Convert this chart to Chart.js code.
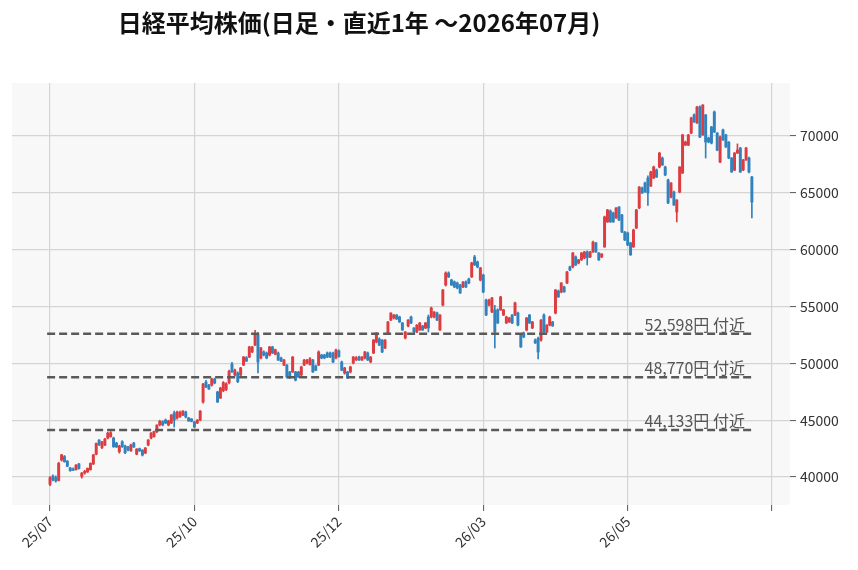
<!DOCTYPE html>
<html><head><meta charset="utf-8">
<script src="https://cdn.jsdelivr.net/npm/chart.js@4.4.1/dist/chart.umd.min.js"></script>
<style>
html,body{margin:0;padding:0;background:#fff;}
#wrap{position:relative;width:858px;height:570px;overflow:hidden;}
canvas{position:absolute;left:0;top:0;}
#title{position:absolute;left:0;top:7px;width:718px;text-align:center;font-family:"Noto Sans CJK JP";font-weight:bold;font-size:24px;line-height:30px;color:#111;white-space:nowrap;}
</style></head><body>
<div id="wrap"><canvas id="c" width="858" height="570"></canvas><div id="title">日経平均株価(日足・直近1年 〜2026年07月)</div></div>
<script>
// ---- data (daily OHLC, Nikkei 225) ----
const openP = [
39360,40090,39950,39700,41500,41800,41400,40800,40700,40650,
41150,40050,40350,40450,40650,41150,42000,43250,42600,42815,
43430,43550,43430,42990,42225,43100,42730,42670,42310,42990,
42020,42500,42375,42110,42815,43430,43545,43985,44600,44865,
45015,44575,44750,45630,45190,45300,45450,45720,45190,45100,
44840,44750,45015,46600,48360,48090,48090,48620,47480,46950,
47600,47700,48300,49940,48970,49150,48970,49850,50500,50560,
51000,51610,52500,50470,51000,50910,50730,51440,50800,50910,
50470,49850,49850,49240,49240,49240,49240,48970,49850,50030,
49900,50290,49770,49850,50730,50730,50910,50910,50910,50470,
51100,50120,49150,49240,49240,50030,50300,50560,50290,50470,
50910,50120,50910,51880,52140,52050,51350,52670,53810,53990,
54250,54080,53550,52230,53290,54080,53110,52760,52930,53290,
53110,54080,54080,54080,54430,52930,55130,56890,57950,57330,
57160,57070,56890,56720,57160,57420,57600,59360,58920,57330,
57770,55570,55130,54520,54700,54700,54700,54250,53550,53640,
54250,54250,54430,52500,52670,52930,54250,53110,52050,52200,
52050,54250,52760,53370,53640,54430,56360,56280,56720,57070,
58480,58480,59360,58830,59100,59270,59800,59360,59800,60590,
59710,59360,60240,62440,63400,63230,62790,63750,63050,61560,
61470,60590,60240,61910,63670,65420,65860,66300,65600,66300,
67010,67270,68060,67270,66130,64630,65070,63310,65070,66740,
69200,69200,70260,71850,71140,72550,70090,71850,69820,70790,
72110,70260,67710,70530,70090,69470,68060,67010,68500,68940,
67010,67890,68060,66390];
const highP = [
40050,40200,40100,41300,42000,41900,41450,40850,40800,41100,
41200,40400,40600,40800,41250,42000,43000,43300,43150,43400,
43950,44000,43500,43050,42800,43200,42800,42700,42900,43050,
42500,42550,42400,42600,43300,43900,44050,44600,45000,44950,
45100,45000,45500,45800,45800,45800,45850,45800,45250,45150,
44900,45050,45850,48250,48500,48150,48700,48700,47550,47900,
48400,48300,49400,50100,49500,49250,49650,50600,50600,51500,
51500,52900,52700,51400,51100,51000,51500,51500,51250,51000,
50550,50350,49900,49300,50600,49300,49300,49750,50350,50350,
50500,50350,49850,51100,50800,50800,51000,51000,51000,51250,
51200,50200,49650,49300,49750,50600,50600,50650,50600,51050,
51000,50600,52100,52700,52250,52100,52100,53700,54450,54300,
54300,54150,53600,52800,53850,54150,53150,53400,53600,53350,
53600,54250,54950,54550,54500,54300,56500,58050,58050,57400,
57250,57150,56950,57200,57250,57500,58900,59500,59000,58450,
57850,55650,55650,55800,55100,54800,55900,54750,54150,54050,
54300,55400,54500,52600,52750,54050,54300,53700,52150,52300,
53850,54350,53400,54150,53700,56500,56450,57100,56800,58100,
58550,59750,59450,59150,59750,59850,59900,59850,60750,60650,
59750,59650,62950,63550,63500,63300,63700,63800,63100,61600,
61550,60650,61800,63550,65550,65500,65950,66500,66900,67350,
67100,68550,68150,67350,66200,65900,65150,64400,67300,70150,
69550,70150,71650,71950,72600,72650,72750,71900,69900,70850,
72200,70300,70000,70600,70150,69500,68100,68550,69300,69000,
67950,69000,68150,66450];
const lowP = [
39250,39650,39550,39650,41400,41300,40900,40500,40550,40600,
40700,39900,40250,40400,40600,41100,41950,42750,42500,42750,
43350,43500,42600,42600,42100,42600,42050,42300,42250,42600,
41950,42250,41850,42050,42750,43350,43500,43900,44500,44500,
44700,44500,44700,44400,45100,45250,45400,45200,44900,44850,
44350,44700,44950,46500,47850,47700,48000,48200,46550,46900,
47500,47600,48200,49200,48900,48300,48900,49800,50150,50500,
50950,51550,49150,50400,50650,50400,50650,50850,50750,50250,
50150,49800,48700,48650,49200,48450,48750,48900,49800,49950,
49850,49200,49350,49800,50400,50400,50500,50500,50050,50400,
50550,49350,49050,48650,49150,49950,50250,50250,50250,50400,
50250,50050,50850,51800,51550,50950,51300,52600,53750,53900,
53850,53600,52900,52150,53200,53500,52700,52700,52900,52900,
53050,52760,54000,54000,53750,52900,55050,56800,57550,56850,
56650,56550,56150,56650,56650,57000,57550,58600,58400,57250,
56200,54200,55050,54450,51350,53500,54650,54200,53500,53600,
53500,54200,53300,51400,52250,52850,53500,53050,51750,50400,
51950,52700,52700,53300,53250,54350,55800,56200,56250,57000,
58150,58400,58600,58750,59050,59200,58650,59300,59750,59750,
59050,59300,60200,62400,62400,62400,62750,62550,61500,60800,
60350,59500,60200,61850,63600,64950,65050,63900,65550,66250,
66350,67200,67400,66500,64050,64550,63900,62440,65000,66700,
69150,69150,70200,71200,71100,69850,70050,68060,69400,69300,
70300,68700,67650,69600,69000,68000,66800,66950,68450,66800,
66950,67850,66750,62790];
const closeP = [
39940,39740,39650,41200,41950,41350,40950,40560,40600,41050,
40750,40350,40500,40770,41200,41950,42950,42850,43100,43340,
43870,43900,42670,42640,42730,42670,42140,42375,42815,42640,
42460,42300,41935,42550,43250,43870,44000,44575,44900,44575,
44750,44925,45455,45015,45720,45700,45800,45280,44925,44900,
44400,45015,45800,48180,47920,47740,48620,48270,46600,47830,
48300,48200,49300,49240,49400,48400,49590,50560,50200,51440,
51440,52500,50120,51350,50730,50470,51440,50910,51200,50290,
50200,50290,48800,48710,50560,48530,48800,49680,50290,50290,
50400,49240,49400,51000,50470,50470,50560,50560,50120,51170,
50600,49400,49590,48710,49680,50560,50500,50290,50560,51000,
50290,50560,52050,52670,51610,51000,52050,53640,54430,54250,
53900,53640,52930,52760,53810,53550,52760,53370,53550,52930,
53550,53110,54870,54520,53810,54250,56450,57950,57600,56890,
56720,56630,56190,57160,56720,57070,58830,58650,58480,58390,
56280,54250,55570,55750,52760,53550,55840,54700,54080,53990,
53550,55310,53370,51440,52320,53990,53550,53640,51790,51000,
53810,52760,53370,54080,53290,56450,55840,57070,56280,58040,
58210,59710,58650,59100,59710,59800,59300,59800,60670,59800,
59100,59620,62880,63490,62440,62440,63670,62600,61560,60850,
60410,59540,61730,63490,65510,64980,65070,65000,66830,67270,
66390,68500,67450,66570,64110,65860,63930,64370,67270,70090,
69470,70090,71580,71230,72550,69910,72730,69470,69470,69380,
70350,68760,69910,69650,69030,68060,66830,68500,68760,66830,
67890,68940,66830,64190];
const tickIdx = [0, 50, 100, 150, 200, 250];
const tickLabels = ['25/07', '25/10', '25/12', '26/03', '26/05', ''];
const yTicks = [40000, 45000, 50000, 55000, 60000, 65000, 70000];
const levels = [52598, 48770, 44133];

// ---- styles ----
const RED = '#dd3c40';
const BLUE = '#3282bd';
const FONT = '"Noto Sans CJK JP", "Noto Sans", sans-serif';

const n = closeP.length;
if (openP.length !== n || highP.length !== n || lowP.length !== n) {
  throw new Error('length mismatch ' + [openP.length, highP.length, lowP.length, n].join(','));
}
const colors = closeP.map((c, i) => c >= openP[i] ? RED : BLUE);
const bodyData = closeP.map((c, i) => ({x: i, y: [openP[i], c]}));
const wickData = closeP.map((c, i) => ({x: i, y: [lowP[i], highP[i]]}));

const bgPlugin = {
  id: 'plotBg',
  beforeDraw(chart) {
    const {ctx, chartArea: a} = chart;
    ctx.save();
    ctx.fillStyle = '#f8f8f8';
    ctx.fillRect(a.left, a.top, a.right - a.left, a.bottom - a.top);
    ctx.restore();
  }
};
const levelLabelPlugin = {
  id: 'levelLabels',
  afterDatasetsDraw(chart) {
    const {ctx, scales: {x, y}} = chart;
    ctx.save();
    ctx.font = '16px ' + FONT;
    ctx.fillStyle = '#555';
    ctx.textAlign = 'right';
    ctx.textBaseline = 'alphabetic';
    levels.forEach(v => {
      ctx.fillText(v.toLocaleString('en-US') + '円 付近', x.getPixelForValue(240.6), y.getPixelForValue(v) - 3);
    });
    ctx.restore();
  }
};

const levelDatasets = levels.map(v => ({
  type: 'line',
  data: [{x: -1, y: v}, {x: n, y: v}],
  borderColor: '#5a5a5a',
  borderWidth: 2.5,
  borderDash: [8, 4],
  pointRadius: 0,
  fill: false,
  order: -1
}));

new Chart(document.getElementById('c'), {
  type: 'bar',
  data: {
    datasets: [
      {data: bodyData, backgroundColor: colors, barThickness: 2.3, grouped: false, borderWidth: 0, minBarLength: 1, order: 0},
      {data: wickData, backgroundColor: colors, barThickness: 1, grouped: false, borderWidth: 0, order: 1},
      ...levelDatasets
    ]
  },
  options: {
    responsive: false,
    animation: false,
    devicePixelRatio: 1,
    layout: {padding: {left: 12, top: 83, right: 0, bottom: 0}},
    plugins: {legend: {display: false}, tooltip: {enabled: false}, title: {display: false}},
    scales: {
      x: {
        type: 'linear', min: -13.16, max: 256.2, offset: false,
        afterBuildTicks: s => { s.ticks = tickIdx.map(v => ({value: v})); },
        afterFit: s => { s.height = 65; },
        ticks: {
          autoSkip: false, maxRotation: 45, minRotation: 45, padding: 2,
          font: {family: FONT, size: 14}, color: '#333',
          callback: v => { const k = tickIdx.indexOf(v); return k >= 0 ? tickLabels[k] : ''; }
        },
        grid: {offset: false, color: '#d4d4d4', lineWidth: 1.2, tickLength: 6, tickColor: '#555', tickWidth: 1},
        border: {display: false}
      },
      y: {
        position: 'right', min: 37540, max: 74660,
        afterBuildTicks: s => { s.ticks = yTicks.map(v => ({value: v})); },
        afterFit: s => { s.width = 68; },
        ticks: {padding: 4, font: {family: FONT, size: 14}, color: '#333', callback: v => String(v)},
        grid: {color: '#d4d4d4', lineWidth: 1.2, tickLength: 6, tickColor: '#555', tickWidth: 1},
        border: {display: false}
      }
    }
  },
  plugins: [bgPlugin, levelLabelPlugin]
});
</script>
</body></html>
